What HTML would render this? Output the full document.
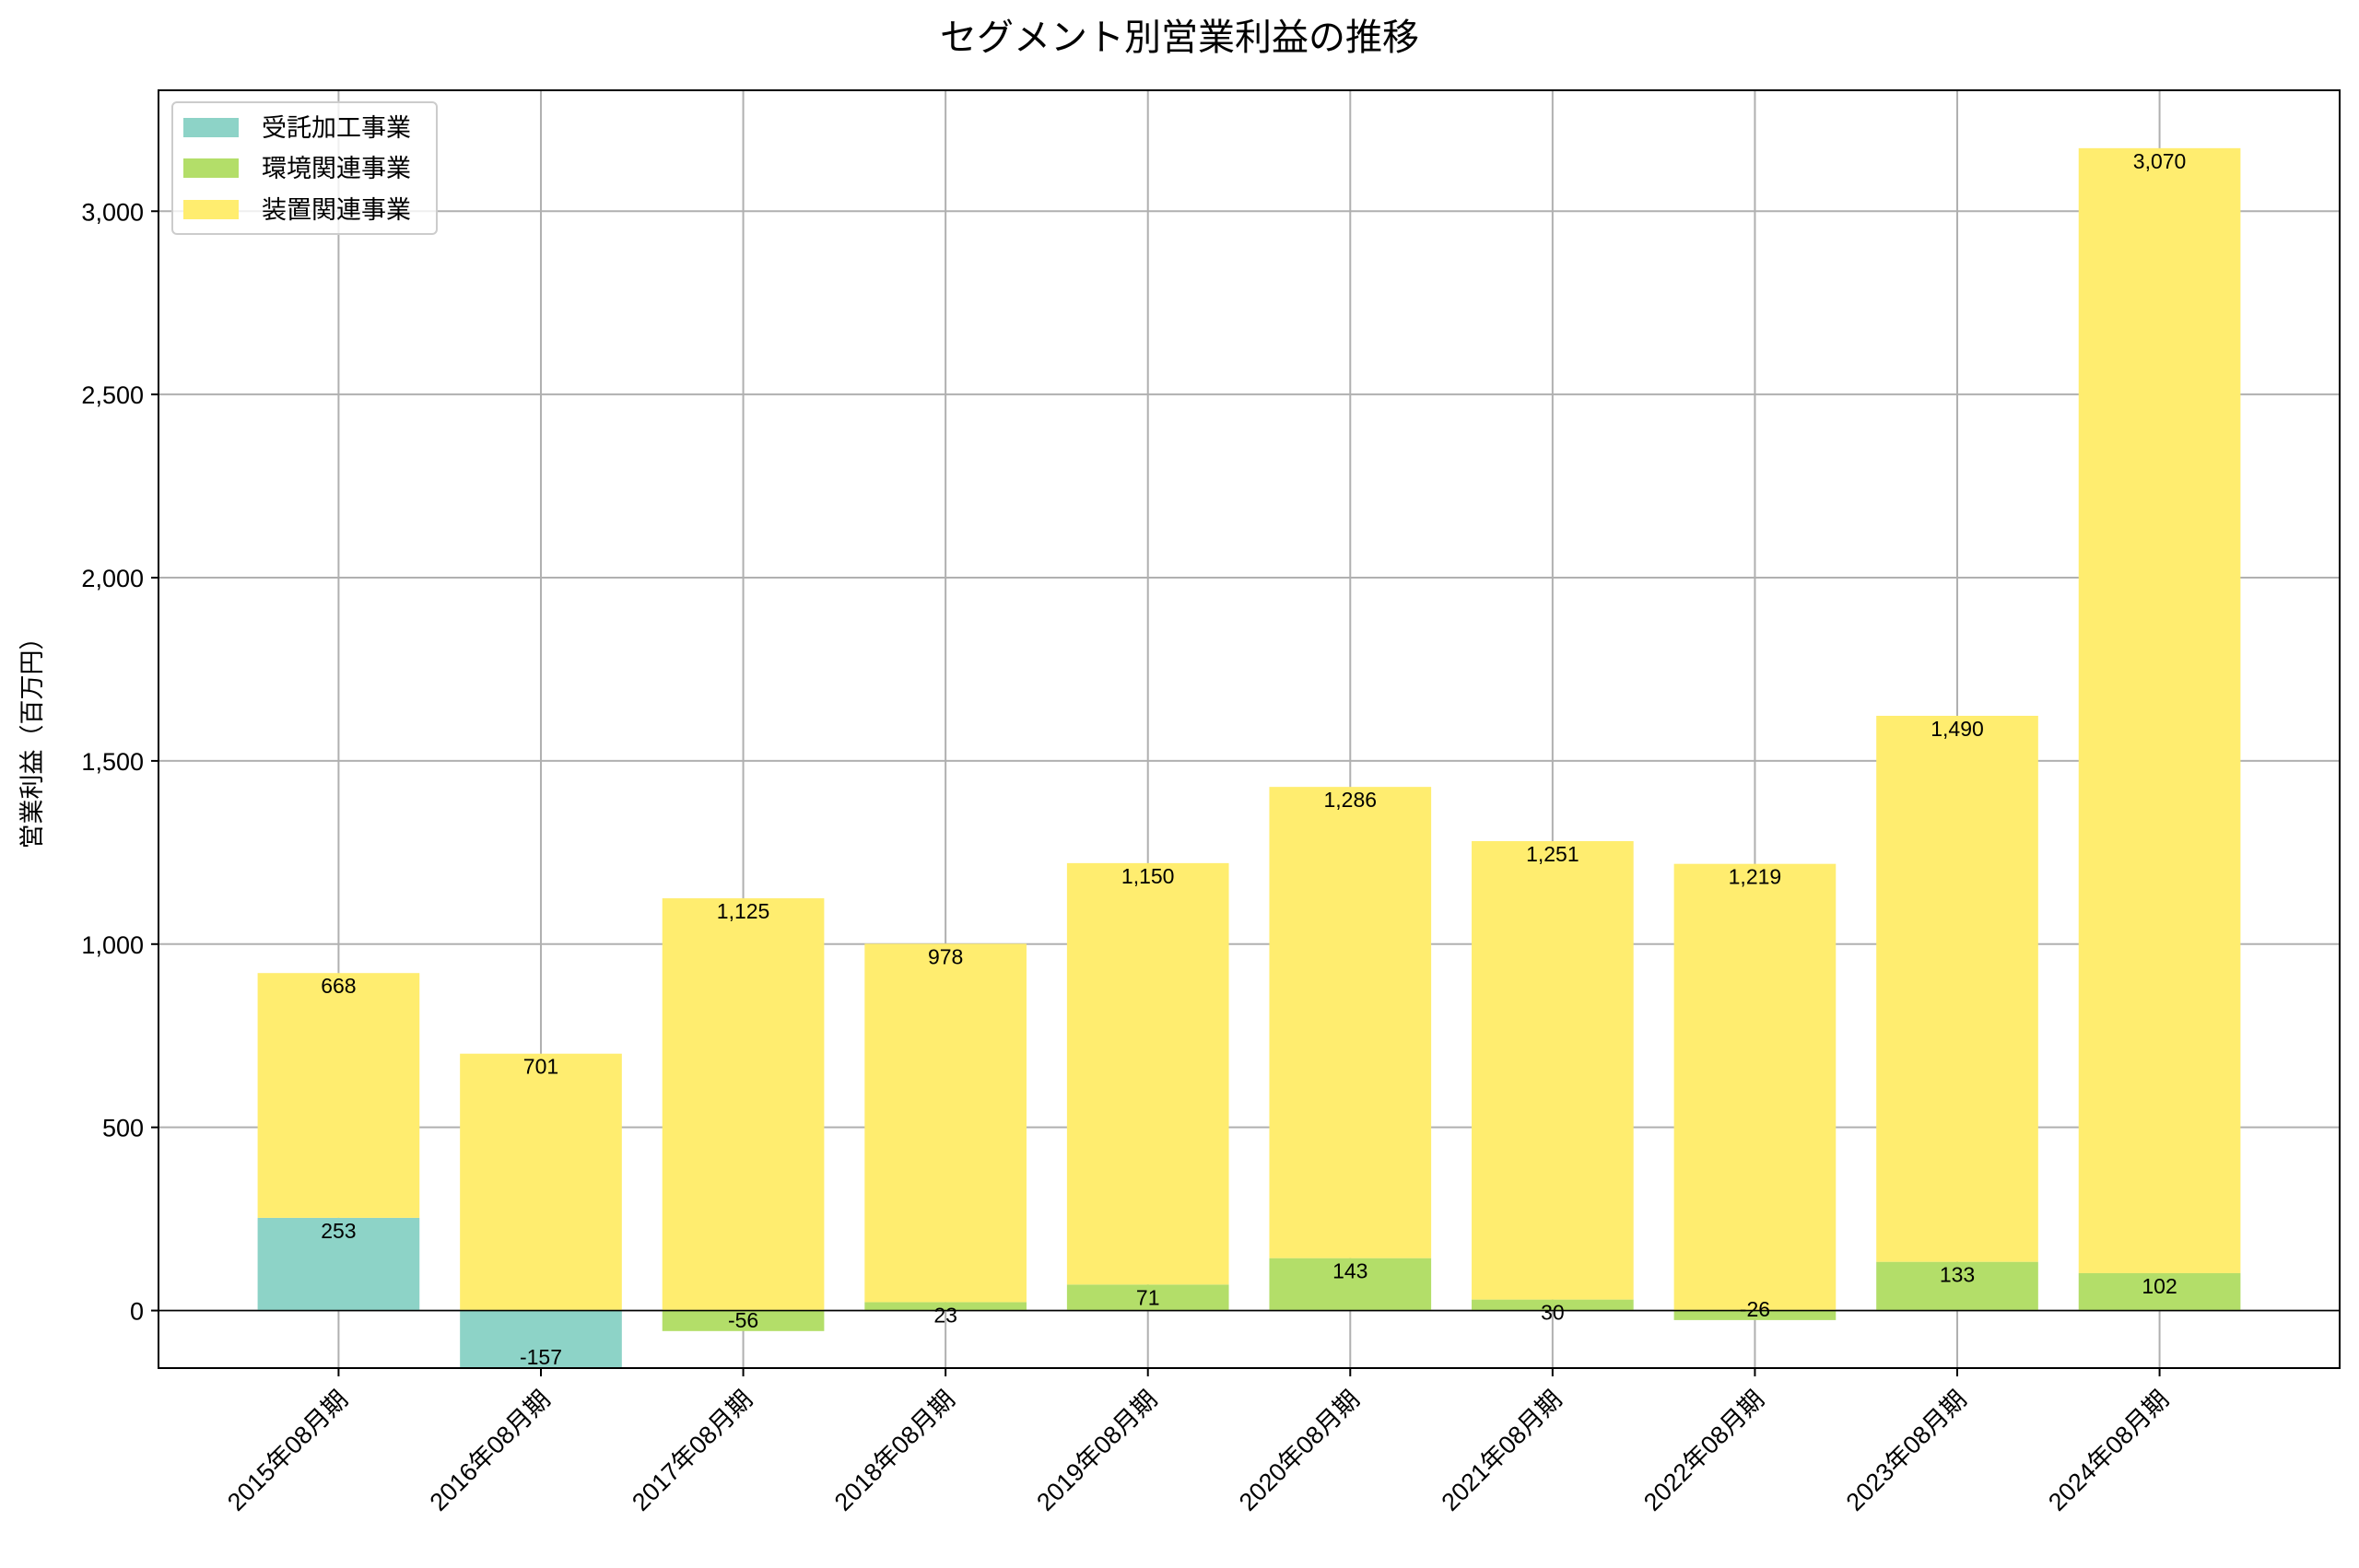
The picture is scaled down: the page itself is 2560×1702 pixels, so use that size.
<!DOCTYPE html>
<html><head><meta charset="utf-8"><style>
html,body{margin:0;padding:0;background:#fff}
svg text{font-family:"Liberation Sans","Noto Sans CJK JP",sans-serif;fill:#000}
</style></head><body>
<svg id="chart" width="2560" height="1697" xmlns="http://www.w3.org/2000/svg">
<text x="1280" y="54" font-size="40" text-anchor="middle">セグメント別営業利益の推移</text>
<text transform="translate(44,800) rotate(-90)" font-size="27" text-anchor="middle">営業利益（百万円）</text>
<g id="grid"></g><g id="bars"></g><g id="labels"></g><g id="axes"></g>
<g>
<rect x="187" y="111" width="287" height="143" rx="5" fill="#fff" fill-opacity="0.8" stroke="#ccc" stroke-width="2"/>
<rect x="199" y="128" width="60" height="21" fill="#8dd3c7"/>
<text x="284" y="148" font-size="27">受託加工事業</text>
<rect x="199" y="172" width="60" height="21" fill="#b3de69"/>
<text x="284" y="192" font-size="27">環境関連事業</text>
<rect x="199" y="217" width="60" height="21" fill="#ffed6f"/>
<text x="284" y="237" font-size="27">装置関連事業</text>
</g>
</svg>
<script>
const categories = ["2015年08月期","2016年08月期","2017年08月期","2018年08月期","2019年08月期","2020年08月期","2021年08月期","2022年08月期","2023年08月期","2024年08月期"];
const contractValues = [253,-157,0,0,0,0,0,0,0,0];
const environmentValues = [0,0,-56,23,71,143,30,-26,133,102];
const equipmentValues = [668,701,1125,978,1150,1286,1251,1219,1490,3070];
const yTicks = [0,500,1000,1500,2000,2500,3000];
const yMin = -157, yMax = 3330;
const L=172, R=2539, T=98, B=1485;
const NS="http://www.w3.org/2000/svg";
const step=(R-L)/(categories.length-1+1.78);
function xpx(i){return L+(i+0.89)*step;}
function ypx(v){return B-(v-yMin)/(yMax-yMin)*(B-T);}
function mk(tag,attrs,parent){const e=document.createElementNS(NS,tag);for(const k in attrs)e.setAttribute(k,attrs[k]);parent.appendChild(e);return e;}
const grid=document.getElementById('grid'),bars=document.getElementById('bars'),labels=document.getElementById('labels'),axes=document.getElementById('axes');
yTicks.forEach(t=>{
 const l=mk('line',{x1:L,x2:R,y1:ypx(t),y2:ypx(t),stroke:'#b0b0b0','stroke-width':2},grid);
 
 
 const tk=mk('line',{x1:L-8,x2:L,y1:ypx(t),y2:ypx(t),stroke:'#000','stroke-width':2},axes);
 
 
 const tx=mk('text',{x:L-16,y:ypx(t)+10,'font-size':27,'text-anchor':'end'},axes);
 tx.textContent=t.toLocaleString('en-US');
 
 
});
categories.forEach((c,i)=>{
 const x=xpx(i);
 const g=mk('line',{x1:x,x2:x,y1:T,y2:B,stroke:'#b0b0b0','stroke-width':2},grid);
 
 
 const tk=mk('line',{x1:x,x2:x,y1:B,y2:B+9,stroke:'#000','stroke-width':2},axes);
 
 
 const tx=mk('text',{transform:`translate(${x-2},${B+22}) rotate(-45)`,'font-size':27,'text-anchor':'end','dominant-baseline':'hanging'},axes);
 tx.textContent=c;
 
 
});
const series=[[contractValues,'#8dd3c7','contract'],[environmentValues,'#b3de69','environment'],[equipmentValues,'#ffed6f','equipment']];
const w=step*0.8;
categories.forEach((c,i)=>{
 let pos=0,neg=0;
 series.forEach(([vals,col,nm])=>{
  const v=vals[i]; if(v===0) return;
  let a,b; if(v>=0){a=pos;b=pos+v;pos=b;}else{a=neg;b=neg+v;neg=b;}
  const y1=ypx(Math.max(a,b)),y2=ypx(Math.min(a,b));
  const r=mk('rect',{x:xpx(i)-w/2,y:y1,width:w,height:y2-y1,fill:col},bars);
  
  
  const ly=v>=0?ypx(b)+22:ypx(b)-4;
  const t=mk('text',{x:xpx(i),y:ly,'font-size':23,'text-anchor':'middle'},labels);
  t.textContent=v.toLocaleString('en-US');
  
  
 });
});
const z=mk('line',{x1:L,x2:R,y1:ypx(0),y2:ypx(0),stroke:'#000','stroke-width':1.6},axes);


const f=mk('rect',{x:L,y:T,width:R-L,height:B-T,fill:'none',stroke:'#000','stroke-width':2},axes);


</script>
</body></html>
